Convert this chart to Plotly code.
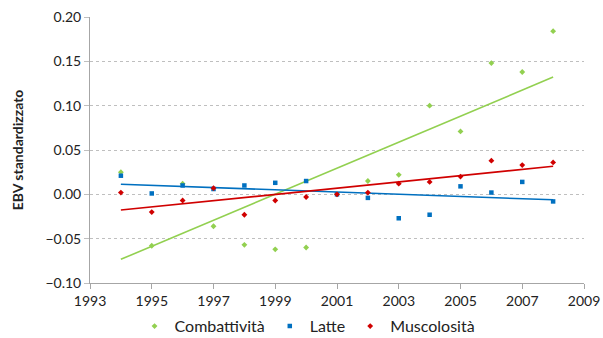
import numpy as np
import plotly.graph_objects as go

anni = list(range(1994, 2009))

combattivita = [0.025, -0.058, 0.012, -0.036, -0.057, -0.062, -0.060, 0.0,
                0.015, 0.022, 0.100, 0.071, 0.148, 0.138, 0.184]
latte = [0.021, 0.001, 0.010, 0.006, 0.010, 0.013, 0.015, 0.0,
         -0.004, -0.027, -0.023, 0.009, 0.002, 0.014, -0.008]
muscolosita = [0.002, -0.020, -0.007, 0.007, -0.023, -0.007, -0.003, 0.0,
               0.002, 0.012, 0.014, 0.020, 0.038, 0.033, 0.036]

serie = [
    ("Combattività", combattivita, "#92D050", "diamond"),
    ("Latte", latte, "#0070C0", "square"),
    ("Muscolosità", muscolosita, "#D00000", "diamond"),
]

FONT = "Lato"
fig = go.Figure()

# linear trend lines (least squares) for each trait
for nome, valori, colore, _ in serie:
    a, b = np.polyfit(anni, valori, 1)
    xs = [anni[0], anni[-1]]
    fig.add_trace(go.Scatter(
        x=xs, y=[a * x + b for x in xs], mode="lines",
        line=dict(color=colore, width=1.6), showlegend=False, hoverinfo="skip"))

for nome, valori, colore, simbolo in serie:
    fig.add_trace(go.Scatter(
        x=anni, y=valori, mode="markers", name=nome,
        marker=dict(color=colore, symbol=simbolo, size=4.5)))

fig.update_layout(
    width=603, height=338,
    margin=dict(l=90, r=19, t=17, b=55, autoexpand=False),
    paper_bgcolor="white", plot_bgcolor="white",
    font=dict(family=FONT, size=14, color="#222222"),
    showlegend=True,
    legend=dict(orientation="h", xref="container", x=0.51, xanchor="center",
                yref="container", y=0.035, yanchor="middle",
                font=dict(family=FONT, size=16, color="#222222"),
                itemwidth=30, tracegroupgap=0),
    xaxis=dict(range=[1993, 2009], dtick=2, tick0=1993, showgrid=False,
               showline=True, linecolor="#A6A6A6", linewidth=1,
               ticks="outside", ticklen=5, tickcolor="#A6A6A6",
               zeroline=False, tickfont=dict(size=14), automargin=False),
    yaxis=dict(range=[-0.10, 0.20], dtick=0.05, tickformat=".2f",
               showgrid=True, gridcolor="#BFBFBF", griddash="dot", gridwidth=1,
               showline=True, linecolor="#A6A6A6", linewidth=1,
               ticks="outside", ticklen=5, tickcolor="#BFBFBF",
               zeroline=False, tickfont=dict(size=14), automargin=False,
               title=dict(text="<b>EBV standardizzato</b>", standoff=18,
                          font=dict(family=FONT, size=14))),
)

fig.write_html("out.html")
